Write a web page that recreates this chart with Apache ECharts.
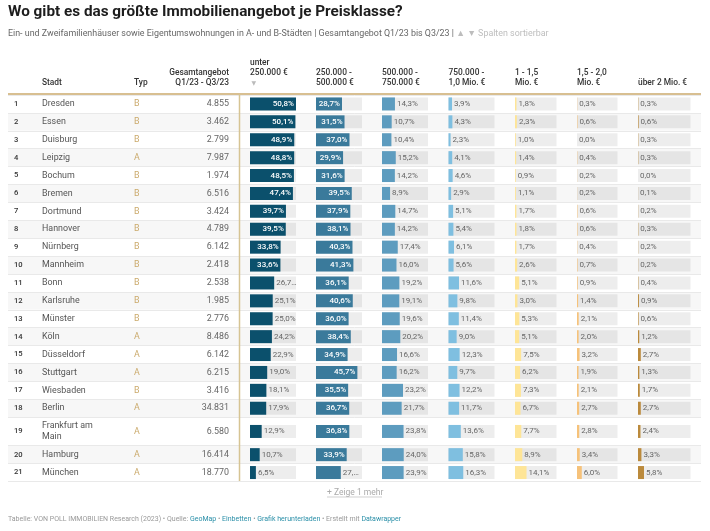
<!DOCTYPE html>
<html>
<head>
<meta charset="utf-8">
<title>Immobilienangebot je Preisklasse</title>
<script src="https://cdn.jsdelivr.net/npm/echarts@6/dist/echarts.min.js"></script>
<style>
  html, body { margin: 0; padding: 0; background: #fff; }
  #main { width: 710px; height: 531px; }
</style>
</head>
<body>
<div id="main"></div>
<script>
var cities = ['Dresden','Essen','Duisburg','Leipzig','Bochum','Bremen','Dortmund','Hannover','Nürnberg','Mannheim','Bonn','Karlsruhe','Münster','Köln','Düsseldorf','Stuttgart','Wiesbaden','Berlin','Frankfurt am\nMain','Hamburg','München'];
var types = ['B','B','B','A','B','B','B','B','B','B','B','B','B','A','A','A','B','A','A','A','A'];
var totals = [4855,3462,2799,7987,1974,6516,3424,4789,6142,2418,2538,1985,2776,8486,6142,6215,3416,34831,6580,16414,18770];

var under250 = [50.8,50.1,48.9,48.8,48.5,47.4,39.7,39.5,33.8,33.6,26.7,25.1,25.0,24.2,22.9,19.0,18.1,17.9,12.9,10.7,6.5];
var from250 = [28.7,31.5,37.0,29.9,31.6,39.5,37.9,38.1,40.3,41.3,36.1,40.6,36.0,38.4,34.9,45.7,35.5,36.7,36.8,33.9,27.4];
var from500 = [14.3,10.7,10.4,15.2,14.2,8.9,14.7,14.2,17.4,16.0,19.2,19.1,19.6,20.2,16.6,16.2,23.2,21.7,23.8,24.0,23.9];
var from750 = [3.9,4.3,2.3,4.1,4.6,2.9,5.1,5.4,6.1,5.6,11.6,9.8,11.4,9.0,12.3,9.7,12.2,11.7,13.6,15.8,16.3];
var from1m = [1.8,2.3,1.0,1.4,0.9,1.1,1.7,1.8,1.7,2.6,5.1,3.0,5.3,5.1,7.5,6.2,7.3,6.7,7.7,8.9,14.1];
var from15m = [0.3,0.6,0.0,0.4,0.2,0.2,0.6,0.6,0.4,0.7,0.9,1.4,2.1,2.0,3.2,1.9,2.1,2.7,2.8,3.4,6.0];
var over2m = [0.3,0.6,0.3,0.3,0.0,0.1,0.2,0.3,0.2,0.2,0.4,0.9,0.6,1.2,2.7,1.3,1.7,2.7,2.4,3.3,5.8];

var headers = ['unter\n250.000 €','250.000 -\n500.000 €','500.000 -\n750.000 €','750.000 -\n1,0 Mio. €','1 - 1,5\nMio. €','1,5 - 2,0\nMio. €','über 2 Mio. €'];

// these two don't fit next to their bar in the original, it cuts them off
var cutLabels = { '26.7': '26,7…', '27.4': '27,…' };

// layout, kept apart from the values
var barCols = [
  { data: under250, left: 250, width: 46, color: '#0b506c' },
  { data: from250, left: 316, width: 46, color: '#3a7a9b' },
  { data: from500, left: 382, width: 46, color: '#5d9cbf' },
  { data: from750, left: 448.5, width: 46, color: '#7fbfe0' },
  { data: from1m, left: 515, width: 41.5, color: '#fee597' },
  { data: from15m, left: 577, width: 40.5, color: '#f6c27a' },
  { data: over2m, left: 638, width: 52.5, color: '#bb8a3c' }
];
var scaleMax = 50.8;
var insideFrom = 28;

// row 19 wraps onto two lines, so the rows are split in three bands
var segs = [
  { from: 0, to: 18, top: 95, height: 322.2, area: ['#ffffff', '#f7f7f7'] },
  { from: 18, to: 19, top: 417.2, height: 28.5, area: ['#ffffff', '#ffffff'] },
  { from: 19, to: 21, top: 445.7, height: 35.8, area: ['#f7f7f7', '#ffffff'] }
];

function pct(v) {
  return cutLabels[String(v)] || v.toFixed(1).replace('.', ',') + '%';
}
function thousands(v) {
  return String(v).replace(/\B(?=(\d{3})+$)/g, '.');
}
var ranks = cities.map(function (c, i) { return String(i + 1); });

var textCols = [
  { data: ranks, left: 14, align: 'left', size: 7.6, color: '#333', weight: 500 },
  { data: cities, left: 42, align: 'left', size: 8.9, color: '#555', weight: 400 },
  { data: types, left: 134, align: 'left', size: 8.9, color: '#cbaa6c', weight: 400 },
  { data: totals.map(thousands), left: 229, align: 'right', size: 8.9, color: '#666', weight: 400 }
];

var grids = [], xAxes = [], yAxes = [], series = [];

function addGrid(left, width, seg, xMax, labels, yExtra) {
  var idx = grids.length;
  grids.push({ left: left, width: width, top: seg.top, height: seg.height, containLabel: false });
  xAxes.push({ gridIndex: idx, type: 'value', min: 0, max: xMax, show: false });
  yAxes.push(Object.assign({
    gridIndex: idx,
    type: 'category',
    inverse: true,
    data: labels,
    axisLine: { show: false },
    axisTick: { show: false },
    axisLabel: { show: false },
    z: 3
  }, yExtra || {}));
  return idx;
}

// row stripes
segs.forEach(function (seg) {
  addGrid(8, 693, seg, 1, cities.slice(seg.from, seg.to), {
    z: 0,
    splitArea: { show: true, interval: 0, areaStyle: { color: seg.area } },
    splitLine: { show: true, interval: 0, lineStyle: { color: '#e9e9e9', width: 1 } }
  });
});

// text columns are drawn as axis labels
textCols.forEach(function (col) {
  segs.forEach(function (seg) {
    addGrid(col.left, 1, seg, 1, col.data.slice(seg.from, seg.to), {
      axisLabel: {
        show: true,
        interval: 0,
        margin: 0,
        align: col.align,
        fontFamily: 'Roboto',
        fontSize: col.size,
        fontWeight: col.weight,
        color: col.color,
        lineHeight: 11
      }
    });
  });
});

// bar columns, all on the same percent scale
barCols.forEach(function (col) {
  segs.forEach(function (seg) {
    var idx = addGrid(col.left, col.width, seg, scaleMax, cities.slice(seg.from, seg.to));
    series.push({
      type: 'bar',
      xAxisIndex: idx,
      yAxisIndex: idx,
      barWidth: 13,
      silent: true,
      itemStyle: { color: col.color },
      showBackground: true,
      backgroundStyle: { color: 'rgba(0,0,0,0.07)' },
      data: col.data.slice(seg.from, seg.to).map(function (v) {
        return {
          value: v,
          label: v >= insideFrom ? {
            position: 'insideRight',
            distance: 2,
            color: '#ffffff',
            fontWeight: 500,
            textBorderWidth: 0
          } : {
            position: 'right',
            distance: 2,
            color: '#666',
            textBorderWidth: 0
          }
        };
      }),
      label: {
        show: true,
        fontFamily: 'Roboto',
        fontSize: 8,
        formatter: function (p) { return pct(p.value); }
      }
    });
  });
});

// header texts and rules
var graphic = [];
function headerText(x, y, text, align) {
  graphic.push({
    type: 'text',
    left: align === 'right' ? undefined : x,
    right: align === 'right' ? 710 - x : undefined,
    top: y,
    z: 10,
    style: {
      text: text,
      fontFamily: 'Roboto',
      fontSize: 8.4,
      fontWeight: 500,
      lineHeight: 10.5,
      fill: '#333',
      textAlign: align || 'left'
    }
  });
}
headerText(42, 78, 'Stadt');
headerText(134, 78, 'Typ');
headerText(229, 67.5, 'Gesamtangebot\nQ1/23 - Q3/23', 'right');
headers.forEach(function (h, i) {
  var x = barCols[i].left;
  var lines = h.split('\n').length;
  headerText(x, i === 0 ? 57.5 : (lines === 2 ? 67.5 : 78), h);
});
graphic.push({
  type: 'text', left: 251.5, top: 80, z: 10,
  style: { text: '▼', fontFamily: 'DejaVu Sans', fontSize: 6, fill: '#bbb' }
});
graphic.push({
  type: 'line', z: 5,
  shape: { x1: 8, y1: 94, x2: 701, y2: 94 },
  style: { stroke: '#cbaa6c', lineWidth: 1.6 }
});
graphic.push({
  type: 'line', z: 5,
  shape: { x1: 239.5, y1: 94, x2: 239.5, y2: 481 },
  style: { stroke: '#d6c493', lineWidth: 1.5 }
});
graphic.push({
  type: 'text', left: 327, top: 488, z: 10,
  style: { text: '+ Zeige 1 mehr', fontFamily: 'Roboto', fontSize: 8.5, fill: '#aaa' }
});
graphic.push({
  type: 'line', z: 10,
  shape: { x1: 327, y1: 497, x2: 382, y2: 497 },
  style: { stroke: '#bbb', lineWidth: 0.7 }
});

var option = {
  animation: false,
  backgroundColor: '#fff',
  title: [
    {
      text: 'Wo gibt es das größte Immobilienangebot je Preisklasse?',
      left: 8,
      top: 5,
      textStyle: { fontFamily: 'Roboto', fontSize: 15.3, fontWeight: 700, color: '#1d1d1d' },
      padding: 0
    },
    {
      text: 'Ein- und Zweifamilienhäuser sowie Eigentumswohnungen in A- und B-Städten | Gesamtangebot Q1/23 bis Q3/23 | {g|▲ ▼ Spalten sortierbar}',
      left: 8,
      top: 29.5,
      padding: 0,
      textStyle: {
        fontFamily: 'Roboto', fontSize: 8.9, fontWeight: 400, color: '#666',
        rich: { g: { fontFamily: 'Roboto', fontSize: 8.9, color: '#bdbdbd' } }
      }
    },
    {
      text: 'Tabelle: VON POLL IMMOBILIEN Research (2023) • Quelle: {l|GeoMap} • {l|Einbetten} • {l|Grafik herunterladen} • Erstellt mit {l|Datawrapper}',
      left: 8,
      top: 516,
      padding: 0,
      textStyle: {
        fontFamily: 'Roboto', fontSize: 7, fontWeight: 400, color: '#999',
        rich: { l: { fontFamily: 'Roboto', fontSize: 7, color: '#2a8fa8' } }
      }
    }
  ],
  grid: grids,
  xAxis: xAxes,
  yAxis: yAxes,
  series: series,
  graphic: graphic
};

var myChart = echarts.init(document.getElementById('main'), null, { renderer: 'canvas' });
myChart.setOption(option);
</script>
</body>
</html>
